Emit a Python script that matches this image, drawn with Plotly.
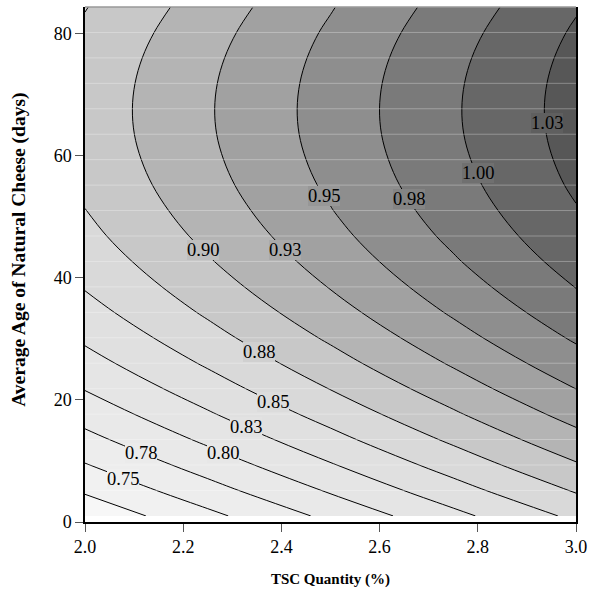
import plotly.graph_objects as go

# TSC quantity (%) grid columns
tsc_quantity = [2.0, 2.25, 2.5, 2.75, 3.0]
# Average age of natural cheese (days) grid rows
age_days = [1.0, 5.17, 9.34, 13.51, 17.68, 21.85, 26.02, 30.19, 34.36, 38.53,
            42.7, 46.87, 51.04, 55.21, 59.38, 63.55, 67.72, 71.89, 76.06, 80.23, 84.4]
# Response values (rows follow age_days, cols follow tsc_quantity)
response = [
    [0.7065, 0.7438, 0.7810, 0.8183, 0.8555],
    [0.7283, 0.7656, 0.8028, 0.8401, 0.8773],
    [0.7486, 0.7859, 0.8231, 0.8604, 0.8976],
    [0.7676, 0.8049, 0.8421, 0.8794, 0.9166],
    [0.7851, 0.8224, 0.8596, 0.8969, 0.9341],
    [0.8012, 0.8385, 0.8757, 0.9130, 0.9502],
    [0.8159, 0.8532, 0.8904, 0.9277, 0.9649],
    [0.8292, 0.8665, 0.9037, 0.9410, 0.9782],
    [0.8411, 0.8784, 0.9156, 0.9529, 0.9901],
    [0.8516, 0.8889, 0.9261, 0.9634, 1.0006],
    [0.8607, 0.8980, 0.9352, 0.9725, 1.0097],
    [0.8684, 0.9057, 0.9429, 0.9802, 1.0174],
    [0.8746, 0.9119, 0.9491, 0.9864, 1.0236],
    [0.8795, 0.9168, 0.9540, 0.9913, 1.0285],
    [0.8829, 0.9202, 0.9574, 0.9947, 1.0319],
    [0.8850, 0.9223, 0.9595, 0.9968, 1.0340],
    [0.8856, 0.9229, 0.9601, 0.9974, 1.0346],
    [0.8848, 0.9221, 0.9593, 0.9966, 1.0338],
    [0.8826, 0.9199, 0.9571, 0.9944, 1.0316],
    [0.8790, 0.9163, 0.9535, 0.9908, 1.0280],
    [0.8740, 0.9113, 0.9485, 0.9858, 1.0230],
]
x_ticks = [2.0, 2.2, 2.4, 2.6, 2.8, 3.0]
y_ticks = [0, 20, 40, 60, 80]

# contour levels and their labels (label placement)
level_start = 0.725
level_end = 1.025
level_step = 0.025
label_levels = [0.75, 0.775, 0.80, 0.825, 0.85, 0.875, 0.90, 0.925, 0.95, 0.975, 1.00, 1.025]
label_x = [2.077, 2.115, 2.282, 2.328, 2.383, 2.355, 2.240, 2.408, 2.487, 2.659, 2.801, 2.940]
label_y = [7.0, 11.3, 11.3, 15.5, 19.6, 27.8, 44.6, 44.6, 53.4, 53.0, 57.2, 65.4]

z_low, z_high = 0.700, 1.050
band_colors = ["#f7f7f7", "#f1f1f1", "#ededed", "#e9e9e9", "#e5e5e5", "#e0e0e0", "#d9d9d9",
               "#c8c8c8", "#b4b4b4", "#a1a1a1", "#8e8e8e", "#7a7a7a", "#676767", "#575757"]

nb = len(band_colors)
colorscale = []
for k, c in enumerate(band_colors):
    colorscale.append([k / nb, c])
    colorscale.append([(k + 1) / nb, c])


def blend(c1, c2):
    a = [int(c1[i:i + 2], 16) for i in (1, 3, 5)]
    b = [int(c2[i:i + 2], 16) for i in (1, 3, 5)]
    return "#" + "".join(f"{(p + q) // 2:02x}" for p, q in zip(a, b))


serif = "Liberation Serif"

fig = go.Figure(go.Contour(
    x=tsc_quantity, y=age_days, z=response,
    zmin=z_low, zmax=z_high, zauto=False,
    colorscale=colorscale, showscale=False,
    contours=dict(start=level_start + 1e-8, end=level_end + 1e-8, size=level_step,
                  coloring="fill", showlabels=False),
    line=dict(color="black", width=1),
    hoverinfo="skip",
))

# faint grid-row artefact lines seen in the reference rendering
for yv in age_days[1:-1]:
    fig.add_shape(type="line", xref="x", yref="y", x0=tsc_quantity[0], x1=tsc_quantity[-1],
                  y0=yv, y1=yv, line=dict(color="rgba(255,255,255,0.3)", width=1), layer="above")

fig.add_shape(type="line", xref="paper", yref="paper", x0=0, x1=1, y0=1, y1=1,
              line=dict(color="#999999", width=1.5), layer="above")

for lv, lx, ly in zip(label_levels, label_x, label_y):
    idx = int(round((lv - z_low) / level_step))
    bg = blend(band_colors[idx - 1], band_colors[idx])
    fig.add_annotation(x=lx, y=ly, xref="x", yref="y", text=f"{lv + 1e-9:.2f}",
                       showarrow=False, font=dict(family=serif, size=18.5, color="black"),
                       bgcolor=bg, borderpad=0, borderwidth=0)

# y-axis title (placed slightly above the plot centre, as in the reference)
fig.add_annotation(x=-0.135, y=0.528, xref="paper", yref="paper",
                   text="<b>Average Age of Natural Cheese (days)</b>", textangle=-90,
                   showarrow=False, xanchor="center", yanchor="middle",
                   font=dict(family=serif, size=19.5, color="black"))

fig.update_layout(
    width=594, height=599,
    margin=dict(l=85, r=16, t=7, b=77),
    paper_bgcolor="white", plot_bgcolor="white",
    font=dict(family=serif, size=18, color="black"),
    showlegend=False,
    xaxis=dict(range=[2.0, 3.0], tickvals=x_ticks, tickformat=".1f",
               ticks="outside", ticklen=8, tickcolor="#555555",
               showline=True, linecolor="black", linewidth=1.5,
               showgrid=False, zeroline=False,
               tickfont=dict(family=serif, size=18, color="black"),
               title=dict(text="<b>TSC Quantity (%)</b>", font=dict(family=serif, size=15), standoff=17)),
    yaxis=dict(range=[0, 84.4], tickvals=y_ticks,
               ticks="outside", ticklen=8, tickcolor="#555555",
               showline=True, linecolor="black", linewidth=1.5, mirror=True,
               showgrid=False, zeroline=False,
               tickfont=dict(family=serif, size=18, color="black")),
)

fig.write_html("out.html")
